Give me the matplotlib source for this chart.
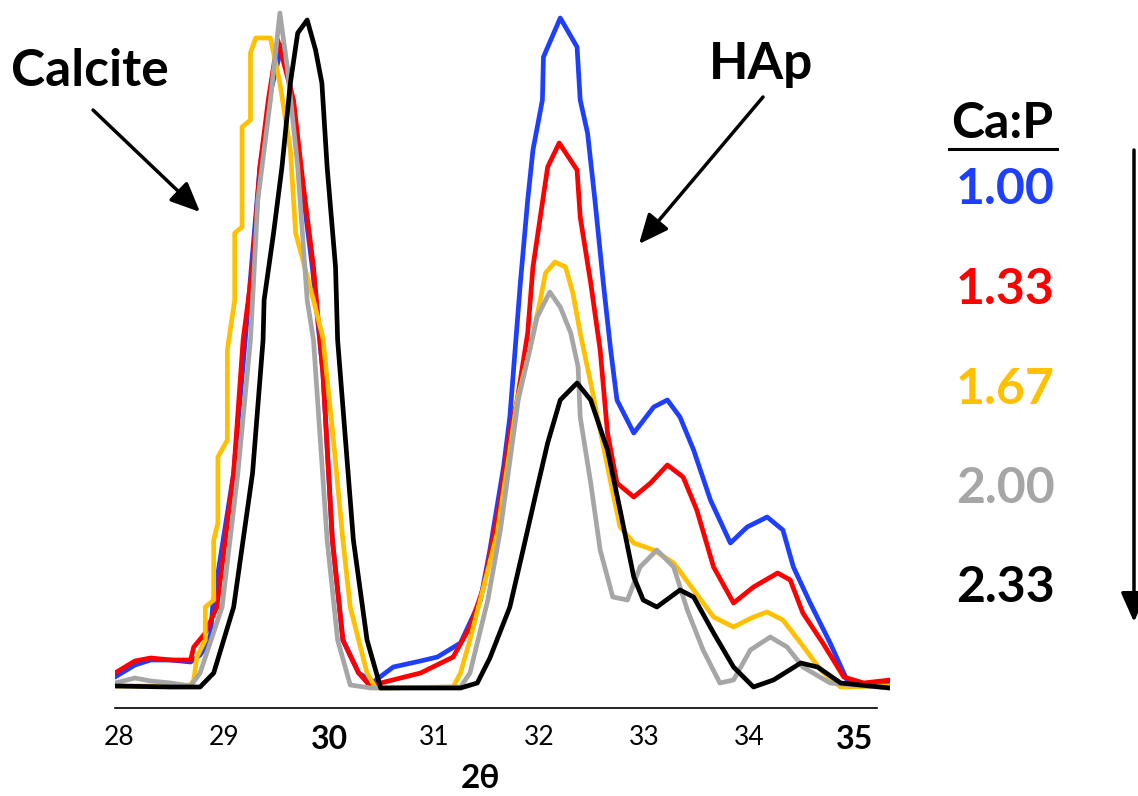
import matplotlib
matplotlib.use("Agg")
import matplotlib.pyplot as plt

# ---- data (2theta, intensity a.u.) ----
blue_x = [27.96, 28.15, 28.30, 28.49, 28.68, 28.77, 28.82, 28.87, 28.89, 29.09, 29.20, 29.34, 29.45, 29.55,
          29.62, 29.72, 29.84, 29.94, 30.03, 30.13, 30.28, 30.42, 30.61, 30.87, 31.03, 31.25, 31.44, 31.53,
          31.66, 31.72, 31.82, 31.89, 31.94, 32.03, 32.04, 32.20, 32.36, 32.39, 32.46, 32.53, 32.61, 32.68,
          32.74, 32.90, 33.09, 33.22, 33.34, 33.47, 33.63, 33.82, 33.98, 34.17, 34.32, 34.42, 34.58, 34.77,
          34.93, 35.09, 35.34]
blue_y = [11, 23, 28, 28, 26, 33, 41, 53, 81, 215, 348, 521, 600, 643,
          610, 520, 420, 315, 148, 48, 15, 6, 21, 27, 31, 45, 88, 138,
          221, 271, 405, 488, 538, 588, 631, 670, 641, 588, 555, 488, 405, 338,
          288, 255, 281, 288, 271, 238, 188, 145, 161, 171, 158, 121, 85, 45,
          8, 3, 4]

red_x = [27.96, 28.15, 28.30, 28.49, 28.68, 28.71, 28.82, 28.93, 29.09, 29.18, 29.27, 29.34, 29.42, 29.51,
         29.66, 29.75, 29.85, 29.94, 30.03, 30.13, 30.28, 30.39, 30.49, 30.87, 31.18, 31.34, 31.47, 31.63,
         31.72, 31.79, 31.89, 31.94, 32.01, 32.08, 32.19, 32.36, 32.39, 32.49, 32.58, 32.65, 32.74, 32.90,
         33.06, 33.22, 33.37, 33.50, 33.66, 33.85, 34.04, 34.27, 34.39, 34.51, 34.70, 34.90, 35.09, 35.34]
red_y = [15, 27, 30, 28, 28, 41, 55, 81, 215, 348, 421, 521, 588, 648,
         588, 505, 421, 315, 148, 48, 15, 2, 5, 15, 31, 61, 101, 188,
         255, 288, 355, 421, 471, 521, 545, 518, 471, 405, 338, 255, 205, 191,
         205, 223, 211, 178, 121, 85, 101, 115, 108, 75, 45, 11, 5, 8]

orange_x = [27.96, 28.49, 28.68, 28.71, 28.74, 28.82, 28.82, 28.90, 28.90, 28.94, 28.94, 29.03, 29.03, 29.10,
            29.10, 29.17, 29.17, 29.25, 29.25, 29.30, 29.44, 29.53, 29.63, 29.68, 29.85, 29.94, 30.04, 30.13,
            30.20, 30.36, 30.44, 31.18, 31.25, 31.34, 31.47, 31.60, 31.72, 31.79, 31.91, 32.01, 32.06, 32.15,
            32.25, 32.32, 32.39, 32.49, 32.65, 32.77, 32.90, 33.09, 33.28, 33.47, 33.66, 33.85, 34.04, 34.17,
            34.32, 34.49, 34.68, 34.87, 35.34]
orange_y = [2, 2, 3, 8, 31, 48, 81, 88, 148, 165, 231, 248, 338, 388,
            455, 461, 561, 568, 635, 650, 650, 605, 538, 455, 388, 350, 248, 148,
            81, 15, 0, 1, 15, 48, 101, 155, 238, 288, 338, 388, 415, 426,
            421, 395, 355, 305, 221, 161, 145, 138, 125, 98, 71, 61, 71, 76,
            68, 45, 18, 1, 2]

gray_x = [27.96, 28.15, 28.30, 28.49, 28.68, 28.77, 28.98, 29.13, 29.25, 29.27, 29.32, 29.44, 29.53, 29.60,
          29.70, 29.79, 29.85, 29.98, 30.08, 30.20, 30.40, 31.25, 31.34, 31.51, 31.63, 31.80, 31.98, 32.10,
          32.20, 32.30, 32.37, 32.39, 32.49, 32.58, 32.70, 32.84, 32.96, 33.12, 33.28, 33.41, 33.56, 33.72,
          33.85, 34.01, 34.20, 34.36, 34.51, 34.77, 35.34]
gray_y = [5, 10, 7, 5, 2, 15, 81, 215, 348, 388, 488, 588, 675, 621,
          521, 388, 348, 148, 48, 3, 0, 1, 15, 88, 158, 288, 371, 396,
          381, 355, 321, 271, 205, 138, 91, 88, 121, 138, 121, 78, 38, 5,
          8, 38, 51, 41, 21, 5, 0]

black_x = [27.96, 28.49, 28.77, 28.90, 29.09, 29.27, 29.37, 29.38, 29.47, 29.55, 29.63, 29.70, 29.79, 29.87,
           29.93, 29.98, 30.06, 30.08, 30.23, 30.36, 30.49, 31.25, 31.41, 31.53, 31.72, 31.85, 31.98, 32.08,
           32.20, 32.36, 32.49, 32.65, 32.77, 32.90, 32.99, 33.12, 33.34, 33.47, 33.66, 33.85, 34.04, 34.23,
           34.49, 34.65, 34.87, 35.34]
black_y = [2, 1, 1, 15, 81, 215, 348, 388, 455, 521, 605, 655, 668, 638,
           605, 521, 421, 348, 148, 48, 0, 0, 5, 30, 81, 140, 200, 245,
           288, 305, 288, 238, 178, 111, 88, 81, 98, 91, 55, 21, 1, 8,
           25, 21, 5, 0]

ratios = ["1.00", "1.33", "1.67", "2.00", "2.33"]
colors = ["#1f3fff", "#ff0000", "#ffc000", "#a6a6a6", "#000000"]
series = [(blue_x, blue_y), (red_x, red_y), (orange_x, orange_y), (gray_x, gray_y), (black_x, black_y)]
xticks = [28, 29, 30, 31, 32, 33, 34, 35]
bold_ticks = [30, 35]

W, H = 1138, 796
fig = plt.figure(figsize=(W / 100, H / 100), dpi=100)
FONT = ["Lato", "DejaVu Sans"]

ax = fig.add_axes([115 / W, 1 - 708 / H, (890 - 115) / W, 708 / H])
for (xs, ys), c in zip(series, colors):
    ax.plot(xs, ys, color=c, lw=3.4, solid_joinstyle="round", solid_capstyle="round")

ax.set_xlim(27.96, 35.34)
ax.set_ylim(-20, 688)
for s in ["top", "right", "left"]:
    ax.spines[s].set_visible(False)
ax.spines["bottom"].set_bounds(27.96, 35.22)
ax.spines["bottom"].set_linewidth(1.2)
ax.set_yticks([])
ax.set_xticks(xticks)
ax.set_xticklabels([str(t) for t in xticks])
ax.tick_params(axis="x", length=0, pad=12)
for lab, t in zip(ax.get_xticklabels(), xticks):
    lab.set_fontfamily(FONT)
    if t in bold_ticks:
        lab.set_fontweight("bold")
        lab.set_fontsize(23)
    else:
        lab.set_fontsize(19)

def fy(py):
    return (H - py) / H

fig.text(480 / W, fy(778), "2θ", ha="center", va="center", fontsize=24, fontweight="bold", family=FONT)

fig.text(90 / W, fy(72), "Calcite", ha="center", va="center", fontsize=37, fontweight="bold", family=FONT)
fig.text(761 / W, fy(65), "HAp", ha="center", va="center", fontsize=37, fontweight="bold", family=FONT)

arrowprops = dict(arrowstyle="-|>,head_length=0.9,head_width=0.4", color="black", lw=2.5, shrinkA=0, shrinkB=0)
fig.add_artist(matplotlib.patches.FancyArrowPatch((93 / W, fy(110)), (200 / W, fy(212)),
               transform=fig.transFigure, mutation_scale=20, **arrowprops))
fig.add_artist(matplotlib.patches.FancyArrowPatch((763 / W, fy(97)), (639 / W, fy(244)),
               transform=fig.transFigure, mutation_scale=20, **arrowprops))

# Ca:P legend
fig.text(1002 / W, fy(124), "Ca:P", ha="center", va="center", fontsize=36, fontweight="bold", family=FONT)
fig.add_artist(matplotlib.lines.Line2D([949 / W, 1057 / W], [fy(149), fy(149)], transform=fig.transFigure,
                                       color="black", lw=2.2))
for i, (r, c) in enumerate(zip(ratios, colors)):
    fig.text(1005 / W, fy(190 + 99.5 * i), r, ha="center", va="center", fontsize=36, fontweight="bold",
             color=c, family=FONT)

fig.add_artist(matplotlib.patches.FancyArrowPatch((1134 / W, fy(150)), (1134 / W, fy(622)),
               transform=fig.transFigure, mutation_scale=20, **arrowprops))

fig.savefig("out.png", dpi=100)
